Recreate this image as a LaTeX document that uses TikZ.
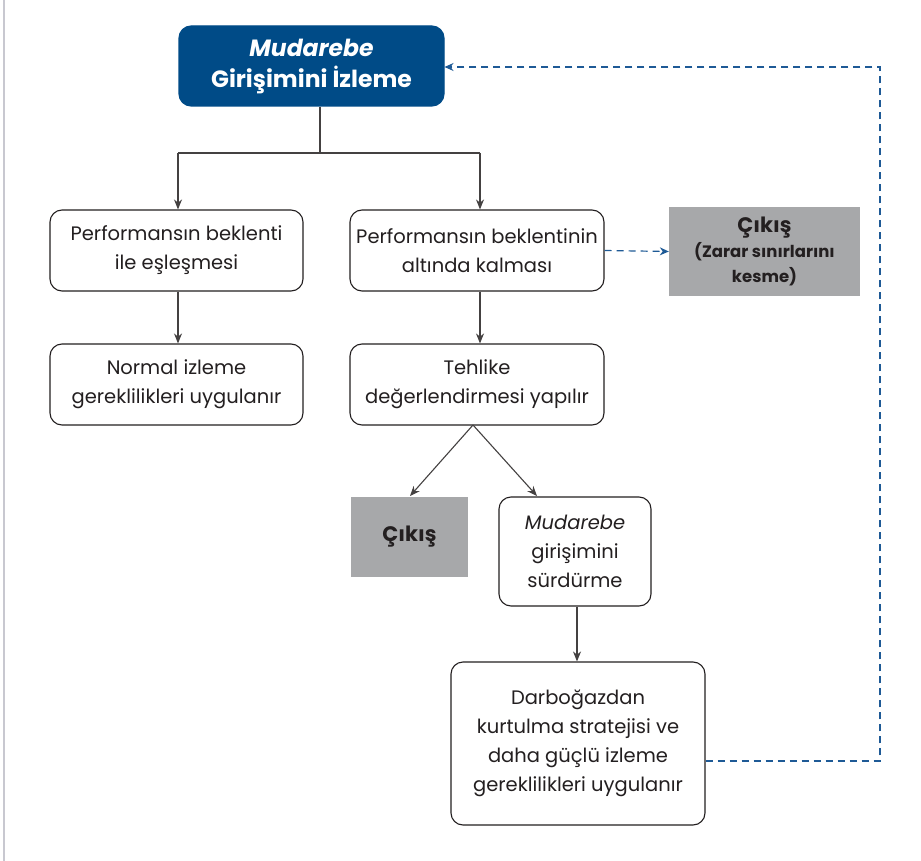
\documentclass[tikz,border=0pt]{standalone}
\usepackage{fontspec}
\setmainfont{Poppins}
\usetikzlibrary{arrows.meta}
\definecolor{dblue}{RGB}{0,75,135}
\definecolor{lblue}{RGB}{30,90,150}
\definecolor{gbox}{RGB}{167,168,170}
\definecolor{txt}{RGB}{35,31,32}
\definecolor{frame}{RGB}{200,200,208}
\tikzset{
  rbox/.style={draw=txt, line width=1.1pt, rounded corners=12pt, fill=white, text=txt, align=center, inner sep=0pt},
  gfill/.style={fill=gbox, text=txt, align=center, inner sep=0pt},
  conn/.style={draw=txt!85!white, line width=1.1pt},
  arr/.style={conn, -{Stealth[length=10pt,width=8pt]}},
  dashblue/.style={draw=lblue, line width=1.2pt, dash pattern=on 7pt off 5pt},
  bodyfont/.style={font=\fontsize{19.5}{29}\selectfont},
}
\begin{document}
\begin{tikzpicture}[x=1pt,y=-1pt]
\useasboundingbox (0,0) rectangle (921,861);
\fill[white] (0,0) rectangle (921,861);
\draw[frame, line width=1.5pt] (4,0) -- (4,861);

\node[rbox, draw=dblue, fill=dblue, text=white, minimum width=265pt, minimum height=80pt, font=\bfseries\fontsize{23.5}{31}\selectfont] (top) at (311.5,66) {\textit{Mudarebe}\\Girişimini İzleme};

\node[rbox, bodyfont, minimum width=253pt, minimum height=81pt] (a) at (176.5,250.5) {Performansın beklenti\\ile eşleşmesi};
\node[rbox, bodyfont, minimum width=254pt, minimum height=81pt] (b) at (477,250.5) {Performansın beklentinin\\altında kalması};
\node[gfill, minimum width=191pt, minimum height=89pt, font=\bfseries\fontsize{16.5}{25}\selectfont] (c) at (764.5,251.5) {\fontsize{21}{25}\selectfont Çıkış\\\fontsize{16.5}{25}\selectfont (Zarar sınırlarını\\\fontsize{16.5}{25}\selectfont kesme)};

\node[rbox, bodyfont, minimum width=253pt, minimum height=81pt] (d) at (176.5,384.5) {Normal izleme\\gereklilikleri uygulanır};
\node[rbox, bodyfont, minimum width=254pt, minimum height=81pt] (e) at (477,384.5) {Tehlike\\değerlendirmesi yapılır};

\node[gfill, minimum width=117pt, minimum height=80pt, font=\bfseries\fontsize{21}{24}\selectfont] (x) at (409.5,537) {Çıkış};
\node[rbox, bodyfont, minimum width=152pt, minimum height=109pt] (f) at (575,551.5) {\textit{Mudarebe}\\girişimini\\sürdürme};

\node[rbox, bodyfont, minimum width=254pt, minimum height=163pt] (g) at (578,743.5) {Darboğazdan\\kurtulma stratejisi ve\\daha güçlü izleme\\gereklilikleri uygulanır};

\coordinate (j) at (320,153);
\coordinate (jl) at (178,153);
\coordinate (jr) at (480,153);
\draw[conn] (top.south -| j) -- (j);
\draw[conn] (jl) -- (jr);
\draw[arr] (jl) -- (a.north -| jl);
\draw[arr] (jr) -- (b.north -| jr);
\draw[arr] (a.south -| jl) -- (d.north -| jl);
\draw[arr] (b.south -| jr) -- (e.north -| jr);
\coordinate (apex) at (473,425);
\coordinate (xl) at (410,496);
\coordinate (fr) at (537,496);
\draw[arr] (apex) -- (xl);
\draw[arr] (apex) -- (fr);
\coordinate (fg) at (577,0);
\draw[arr] (f.south -| fg) -- (g.north -| fg);

\coordinate (c1) at (880,761);
\coordinate (c2) at (880,67);
\draw[dashblue, -{Stealth[length=9pt,width=8pt]}] (b.east) -- (c.west);
\draw[dashblue, -{Stealth[length=9pt,width=8pt]}] (g.east |- c1) -- (c1) -- (c2) -- (top.east |- c2);
\end{tikzpicture}
\end{document}
